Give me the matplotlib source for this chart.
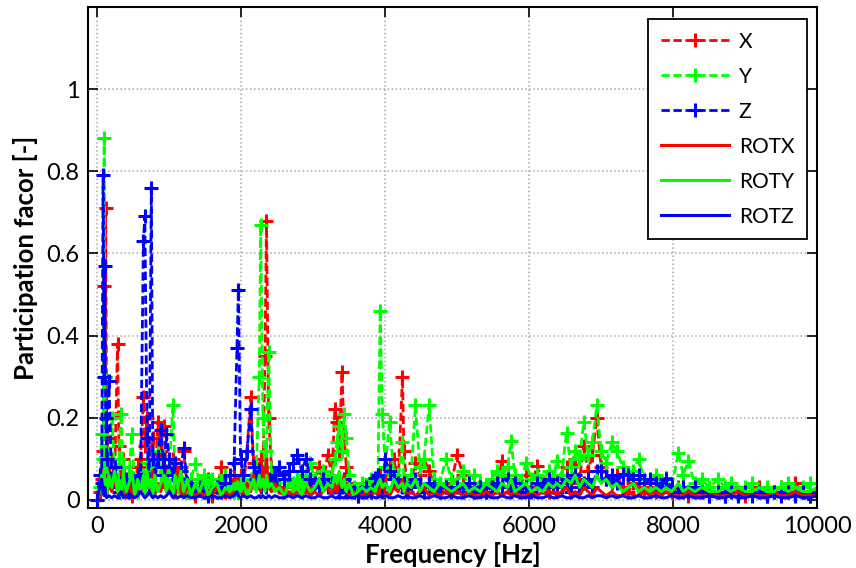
#!/usr/bin/env python3
"""Participation factor per mode vs. frequency (X, Y, Z and rotations)."""

import matplotlib
matplotlib.use("Agg")
import matplotlib.pyplot as plt
from matplotlib.ticker import FuncFormatter

# mode frequencies [Hz], shared by every series (rows of 10)
freq = [
    0, 30, 60, 80, 95, 105, 115, 130, 160, 200,
    240, 280, 300, 330, 360, 400, 440, 480, 520, 560,
    600, 640, 660, 690, 720, 750, 770, 800, 840, 880,
    920, 960, 1000, 1050, 1080, 1120, 1160, 1200, 1250, 1300,
    1360, 1420, 1480, 1540, 1600, 1660, 1720, 1780, 1840, 1900,
    1940, 1960, 1990, 2030, 2080, 2130, 2170, 2210, 2250, 2270,
    2300, 2330, 2350, 2380, 2420, 2470, 2530, 2600, 2660, 2720,
    2780, 2840, 2900, 2960, 3020, 3080, 3140, 3200, 3260, 3300,
    3330, 3360, 3400, 3430, 3460, 3500, 3560, 3620, 3680, 3740,
    3800, 3860, 3900, 3930, 3960, 4000, 4060, 4120, 4180, 4240,
    4260, 4300, 4360, 4420, 4480, 4540, 4610, 4680, 4760, 4840,
    4920, 5000, 5080, 5160, 5240, 5320, 5400, 5480, 5560, 5620,
    5700, 5750, 5800, 5880, 5955, 6030, 6110, 6190, 6270, 6330,
    6385, 6450, 6520, 6580, 6640, 6700, 6760, 6820, 6880, 6940,
    7000, 7070, 7150, 7215, 7300, 7380, 7450, 7520, 7600, 7680,
    7760, 7840, 7900, 7980, 8075, 8140, 8210, 8300, 8400, 8500,
    8630, 8720, 8800, 8900, 9000, 9100, 9200, 9300, 9400, 9500,
    9600, 9700, 9800, 9900, 10000,
]

pf_x = [
    0.0, 0.02, 0.05, 0.12, 0.52, 0.30, 0.71, 0.15, 0.06, 0.10,
    0.05, 0.38, 0.13, 0.04, 0.10, 0.02, 0.06, 0.01, 0.03, 0.08,
    0.10, 0.25, 0.13, 0.20, 0.05, 0.08, 0.15, 0.03, 0.19, 0.12,
    0.18, 0.07, 0.03, 0.10, 0.02, 0.05, 0.08, 0.12, 0.02, 0.04,
    0.01, 0.03, 0.02, 0.05, 0.01, 0.02, 0.08, 0.02, 0.03, 0.06,
    0.04, 0.02, 0.06, 0.03, 0.12, 0.25, 0.09, 0.05, 0.04, 0.10,
    0.05, 0.35, 0.68, 0.20, 0.08, 0.06, 0.03, 0.02, 0.05, 0.03,
    0.04, 0.02, 0.06, 0.03, 0.05, 0.08, 0.04, 0.11, 0.06, 0.22,
    0.19, 0.12, 0.31, 0.15, 0.08, 0.04, 0.02, 0.01, 0.03, 0.02,
    0.02, 0.04, 0.03, 0.06, 0.02, 0.05, 0.08, 0.10, 0.04, 0.30,
    0.12, 0.03, 0.05, 0.09, 0.06, 0.10, 0.07, 0.04, 0.02, 0.03,
    0.04, 0.11, 0.06, 0.03, 0.02, 0.04, 0.02, 0.05, 0.03, 0.095,
    0.03, 0.02, 0.05, 0.04, 0.06, 0.03, 0.083, 0.04, 0.02, 0.05,
    0.03, 0.06, 0.08, 0.04, 0.10, 0.05, 0.13, 0.07, 0.11, 0.20,
    0.08, 0.05, 0.04, 0.06, 0.03, 0.02, 0.04, 0.03, 0.02, 0.03,
    0.02, 0.03, 0.054, 0.02, 0.03, 0.02, 0.01, 0.02, 0.03, 0.01,
    0.02, 0.01, 0.03, 0.02, 0.01, 0.02, 0.03, 0.01, 0.02, 0.03,
    0.02, 0.04, 0.02, 0.01, 0.02,
]

pf_y = [
    0.0, 0.03, 0.16, 0.10, 0.88, 0.30, 0.08, 0.05, 0.10, 0.20,
    0.08, 0.05, 0.10, 0.21, 0.08, 0.04, 0.06, 0.16, 0.03, 0.02,
    0.04, 0.06, 0.03, 0.09, 0.05, 0.07, 0.04, 0.08, 0.12, 0.06,
    0.10, 0.05, 0.08, 0.23, 0.06, 0.03, 0.07, 0.04, 0.02, 0.05,
    0.088, 0.04, 0.06, 0.03, 0.05, 0.02, 0.04, 0.06, 0.03, 0.02,
    0.03, 0.02, 0.04, 0.06, 0.03, 0.05, 0.04, 0.08, 0.30, 0.67,
    0.20, 0.08, 0.12, 0.36, 0.06, 0.04, 0.08, 0.05, 0.07, 0.04,
    0.05, 0.03, 0.06, 0.09, 0.05, 0.04, 0.07, 0.04, 0.06, 0.10,
    0.14, 0.18, 0.12, 0.21, 0.15, 0.06, 0.03, 0.02, 0.04, 0.03,
    0.05, 0.04, 0.06, 0.46, 0.21, 0.08, 0.19, 0.06, 0.05, 0.14,
    0.05, 0.04, 0.06, 0.23, 0.08, 0.10, 0.23, 0.05, 0.04, 0.10,
    0.05, 0.04, 0.07, 0.03, 0.06, 0.04, 0.03, 0.05, 0.07, 0.06,
    0.08, 0.144, 0.06, 0.04, 0.09, 0.05, 0.06, 0.04, 0.07, 0.05,
    0.095, 0.06, 0.163, 0.08, 0.12, 0.10, 0.19, 0.11, 0.14, 0.23,
    0.12, 0.09, 0.14, 0.12, 0.08, 0.06, 0.07, 0.10, 0.05, 0.04,
    0.06, 0.04, 0.05, 0.03, 0.115, 0.06, 0.095, 0.04, 0.05, 0.03,
    0.05, 0.03, 0.04, 0.02, 0.03, 0.04, 0.02, 0.03, 0.02, 0.03,
    0.04, 0.02, 0.03, 0.04, 0.02,
]

pf_z = [
    0.0, 0.06, 0.04, 0.79, 0.30, 0.57, 0.20, 0.10, 0.29, 0.04,
    0.08, 0.03, 0.02, 0.04, 0.03, 0.05, 0.02, 0.03, 0.04, 0.06,
    0.05, 0.63, 0.69, 0.15, 0.04, 0.76, 0.10, 0.06, 0.10, 0.17,
    0.08, 0.16, 0.10, 0.06, 0.09, 0.05, 0.07, 0.125, 0.04, 0.03,
    0.02, 0.03, 0.02, 0.01, 0.02, 0.03, 0.02, 0.04, 0.06, 0.09,
    0.37, 0.51, 0.10, 0.06, 0.12, 0.22, 0.08, 0.05, 0.07, 0.03,
    0.04, 0.06, 0.03, 0.05, 0.04, 0.06, 0.08, 0.05, 0.07, 0.09,
    0.11, 0.07, 0.10, 0.05, 0.04, 0.03, 0.05, 0.03, 0.04, 0.03,
    0.04, 0.02, 0.03, 0.05, 0.02, 0.03, 0.02, 0.01, 0.02, 0.03,
    0.02, 0.054, 0.06, 0.04, 0.03, 0.10, 0.07, 0.05, 0.04, 0.03,
    0.04, 0.02, 0.03, 0.05, 0.03, 0.02, 0.04, 0.03, 0.02, 0.03,
    0.02, 0.03, 0.02, 0.04, 0.02, 0.03, 0.02, 0.03, 0.04, 0.03,
    0.05, 0.03, 0.04, 0.02, 0.03, 0.02, 0.04, 0.03, 0.05, 0.03,
    0.04, 0.03, 0.05, 0.02, 0.06, 0.03, 0.04, 0.05, 0.03, 0.07,
    0.07, 0.05, 0.06, 0.04, 0.063, 0.06, 0.05, 0.06, 0.04, 0.05,
    0.04, 0.03, 0.05, 0.03, 0.02, 0.03, 0.02, 0.03, 0.02, 0.01,
    0.02, 0.01, 0.02, 0.01, 0.02, 0.01, 0.02, 0.01, 0.02, 0.01,
    0.02, 0.01, 0.02, 0.01, 0.02,
]

pf_rotx = [
    0.0, 0.01, 0.03, 0.05, 0.02, 0.06, 0.03, 0.01, 0.04, 0.02,
    0.05, 0.02, 0.01, 0.03, 0.02, 0.01, 0.04, 0.02, 0.01, 0.03,
    0.02, 0.04, 0.06, 0.03, 0.05, 0.02, 0.07, 0.03, 0.04, 0.02,
    0.05, 0.02, 0.03, 0.01, 0.04, 0.08, 0.02, 0.01, 0.03, 0.02,
    0.01, 0.02, 0.01, 0.02, 0.01, 0.03, 0.01, 0.02, 0.01, 0.02,
    0.01, 0.03, 0.02, 0.01, 0.04, 0.02, 0.06, 0.03, 0.05, 0.02,
    0.08, 0.04, 0.10, 0.03, 0.02, 0.04, 0.02, 0.01, 0.02, 0.01,
    0.02, 0.01, 0.03, 0.01, 0.02, 0.01, 0.02, 0.03, 0.01, 0.04,
    0.02, 0.05, 0.03, 0.06, 0.02, 0.01, 0.02, 0.01, 0.01, 0.02,
    0.01, 0.02, 0.01, 0.03, 0.04, 0.02, 0.01, 0.03, 0.02, 0.05,
    0.03, 0.01, 0.02, 0.01, 0.02, 0.03, 0.01, 0.02, 0.01, 0.02,
    0.01, 0.02, 0.01, 0.02, 0.01, 0.01, 0.02, 0.01, 0.02, 0.01,
    0.02, 0.01, 0.02, 0.01, 0.01, 0.02, 0.01, 0.02, 0.01, 0.02,
    0.01, 0.02, 0.03, 0.01, 0.02, 0.01, 0.03, 0.02, 0.01, 0.03,
    0.02, 0.01, 0.02, 0.01, 0.01, 0.02, 0.01, 0.01, 0.02, 0.01,
    0.01, 0.01, 0.02, 0.01, 0.01, 0.01, 0.02, 0.01, 0.01, 0.01,
    0.01, 0.01, 0.01, 0.02, 0.01, 0.01, 0.01, 0.01, 0.02, 0.01,
    0.01, 0.02, 0.01, 0.01, 0.01,
]

pf_roty = [
    0.0, 0.02, 0.06, 0.03, 0.07, 0.02, 0.05, 0.01, 0.06, 0.03,
    0.07, 0.02, 0.05, 0.01, 0.06, 0.02, 0.04, 0.07, 0.01, 0.05,
    0.02, 0.06, 0.01, 0.07, 0.03, 0.05, 0.01, 0.06, 0.02, 0.04,
    0.06, 0.02, 0.05, 0.01, 0.06, 0.03, 0.07, 0.02, 0.05, 0.01,
    0.04, 0.02, 0.05, 0.01, 0.03, 0.04, 0.01, 0.03, 0.02, 0.04,
    0.01, 0.03, 0.02, 0.04, 0.01, 0.03, 0.05, 0.02, 0.06, 0.03,
    0.05, 0.02, 0.06, 0.03, 0.04, 0.02, 0.03, 0.01, 0.04, 0.02,
    0.03, 0.01, 0.04, 0.02, 0.03, 0.05, 0.02, 0.04, 0.03, 0.06,
    0.04, 0.07, 0.03, 0.05, 0.02, 0.04, 0.01, 0.02, 0.03, 0.02,
    0.03, 0.02, 0.04, 0.05, 0.03, 0.04, 0.02, 0.05, 0.03, 0.04,
    0.02, 0.04, 0.03, 0.05, 0.02, 0.04, 0.03, 0.02, 0.04, 0.03,
    0.02, 0.03, 0.04, 0.02, 0.03, 0.02, 0.04, 0.03, 0.02, 0.04,
    0.03, 0.05, 0.02, 0.03, 0.04, 0.02, 0.03, 0.02, 0.04, 0.03,
    0.04, 0.03, 0.05, 0.04, 0.06, 0.03, 0.05, 0.04, 0.03, 0.06,
    0.04, 0.05, 0.03, 0.04, 0.02, 0.03, 0.04, 0.02, 0.03, 0.02,
    0.03, 0.02, 0.03, 0.02, 0.04, 0.02, 0.03, 0.02, 0.03, 0.02,
    0.02, 0.03, 0.02, 0.03, 0.02, 0.02, 0.03, 0.02, 0.02, 0.03,
    0.02, 0.03, 0.02, 0.02, 0.03,
]

pf_rotz = [
    0.0, 0.03, 0.05, 0.02, 0.01, 0.03, 0.01, 0.005, 0.01, 0.005,
    0.01, 0.005, 0.01, 0.02, 0.005, 0.01, 0.005, 0.01, 0.005, 0.01,
    0.02, 0.01, 0.005, 0.01, 0.02, 0.01, 0.005, 0.01, 0.005, 0.01,
    0.005, 0.01, 0.02, 0.005, 0.01, 0.005, 0.01, 0.005, 0.01, 0.005,
    0.005, 0.01, 0.005, 0.005, 0.01, 0.005, 0.005, 0.01, 0.005, 0.01,
    0.02, 0.01, 0.005, 0.01, 0.005, 0.01, 0.005, 0.005, 0.01, 0.005,
    0.01, 0.005, 0.005, 0.01, 0.005, 0.01, 0.005, 0.005, 0.01, 0.005,
    0.01, 0.005, 0.01, 0.005, 0.005, 0.01, 0.005, 0.005, 0.01, 0.005,
    0.005, 0.01, 0.005, 0.005, 0.01, 0.005, 0.005, 0.01, 0.005, 0.005,
    0.01, 0.005, 0.005, 0.01, 0.005, 0.01, 0.005, 0.005, 0.01, 0.005,
    0.005, 0.01, 0.005, 0.005, 0.01, 0.005, 0.005, 0.01, 0.005, 0.005,
    0.01, 0.005, 0.005, 0.01, 0.005, 0.005, 0.01, 0.005, 0.005, 0.01,
    0.005, 0.005, 0.01, 0.005, 0.005, 0.01, 0.005, 0.005, 0.01, 0.005,
    0.005, 0.01, 0.005, 0.005, 0.01, 0.005, 0.005, 0.01, 0.005, 0.01,
    0.01, 0.005, 0.01, 0.005, 0.01, 0.005, 0.005, 0.01, 0.005, 0.005,
    0.01, 0.005, 0.005, 0.01, 0.005, 0.005, 0.01, 0.005, 0.005, 0.01,
    0.005, 0.005, 0.01, 0.005, 0.005, 0.01, 0.005, 0.005, 0.01, 0.005,
    0.005, 0.01, 0.005, 0.005, 0.01,
]

series_labels = ["X", "Y", "Z", "ROTX", "ROTY", "ROTZ"]
x_ticks = [0, 2000, 4000, 6000, 8000, 10000]
y_ticks = [0, 0.2, 0.4, 0.6, 0.8, 1.0]

RED, GREEN, BLUE = "#ff0000", "#00ff00", "#0000ff"


def main() -> None:
    plt.rcParams["font.family"] = ["Lato", "DejaVu Sans"]

    fig = plt.figure(figsize=(8.56, 5.68), dpi=100)
    ax = fig.add_axes([0.1028, 0.1056, 0.8516, 0.8821])

    dashed = dict(linestyle="--", dashes=(3.0, 1.3), linewidth=2.0,
                  marker="+", markersize=10, markeredgewidth=2.2)
    for vals, col, lab in zip([pf_x, pf_y, pf_z], [RED, GREEN, BLUE], series_labels[:3]):
        ax.plot(freq, vals, color=col, label=lab, **dashed)
    for vals, col, lab in zip([pf_rotx, pf_roty, pf_rotz], [RED, GREEN, BLUE], series_labels[3:]):
        ax.plot(freq, vals, color=col, label=lab, linewidth=2.2)

    ax.set_xlim(-130, 10000)
    ax.set_ylim(-0.02, 1.2)
    ax.set_xticks(x_ticks)
    ax.set_yticks(y_ticks)
    ax.yaxis.set_major_formatter(FuncFormatter(lambda v, _: f"{v:g}"))
    ax.tick_params(direction="in", length=7, width=1.2, labelsize=17,
                   top=True, right=True, pad=6)
    ax.grid(True, linestyle=":", color="#a8a8a8", linewidth=1.1)
    for sp in ax.spines.values():
        sp.set_linewidth(1.5)

    ax.set_xlabel("Frequency [Hz]", fontsize=18.5, fontweight="bold", labelpad=3)
    ax.set_ylabel("Participation facor [-]", fontsize=18.5, fontweight="bold", labelpad=6)

    leg = ax.legend(loc="upper right", bbox_to_anchor=(0.986, 0.976), borderaxespad=0.0,
                    fontsize=15, handlelength=3.3, labelspacing=0.72, borderpad=0.6,
                    handletextpad=0.45, fancybox=False, framealpha=1.0, edgecolor="black")
    leg.get_frame().set_linewidth(1.3)

    fig.savefig("out.png", dpi=100)


if __name__ == "__main__":
    main()
